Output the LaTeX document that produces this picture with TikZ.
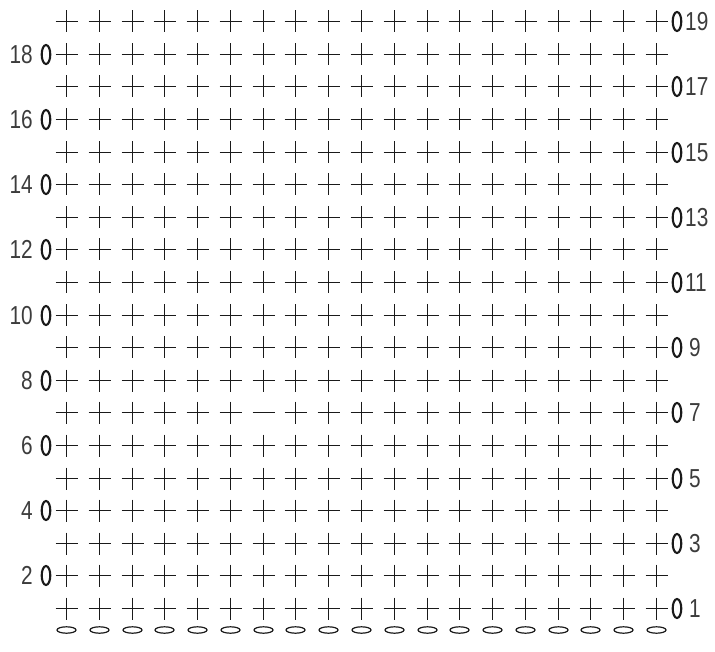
\documentclass[tikz,border=0pt]{standalone}
\usepackage{fontspec}
\newfontfamily\numfont[FakeStretch=0.8]{Liberation Sans}
\definecolor{ink}{HTML}{1A1A1A}
\begin{document}
\begin{tikzpicture}[x=1pt,y=-1pt,
  stitch/.style={draw=ink,line width=1.3pt},
  chainov/.style={draw=ink,line width=1.2pt},
  turnov/.style={draw=ink,line width=2.1pt},
  rowlab/.style={font=\numfont\fontsize{26}{26}\selectfont,text=ink!85,inner sep=0pt}]
\useasboundingbox (0,0) rectangle (715,652);
\foreach \r in {1,...,19}{
  \pgfmathsetmacro{\yy}{round(608-(\r-1)*32.6)+0.5}
  \foreach \c in {1,...,19}{
    \pgfmathsetmacro{\xx}{round(66+(\c-1)*32.78)+0.5}
    \pgfmathtruncatemacro{\skipv}{and(\r==7,\c==7)}
    \draw[stitch] (\xx-11,\yy) -- (\xx+11,\yy);
    \ifnum\skipv=0 \draw[stitch] (\xx,\yy-11) -- (\xx,\yy+11);\fi
  }
  \pgfmathtruncatemacro{\odd}{mod(\r,2)}
  \ifnum\odd=1
    \draw[turnov] (677,\yy) ellipse [x radius=4.3, y radius=9.5];
    \ifnum\r<10
      \node[rowlab,anchor=west] (lab\r) at (689,\yy) {\r};
    \else
      \node[rowlab,anchor=west] (lab\r) at (685,\yy) {\r};
    \fi
  \else
    \draw[turnov] (46,\yy) ellipse [x radius=4.3, y radius=9.5];
    \node[rowlab,anchor=east] (lab\r) at (33,\yy) {\r};
  \fi
}
\foreach \c in {1,...,19}{
  \pgfmathsetmacro{\xx}{round(66+(\c-1)*32.78)+0.5}
  \draw[chainov] (\xx,630) ellipse [x radius=9.5, y radius=3.2];
}
\end{tikzpicture}
\end{document}
